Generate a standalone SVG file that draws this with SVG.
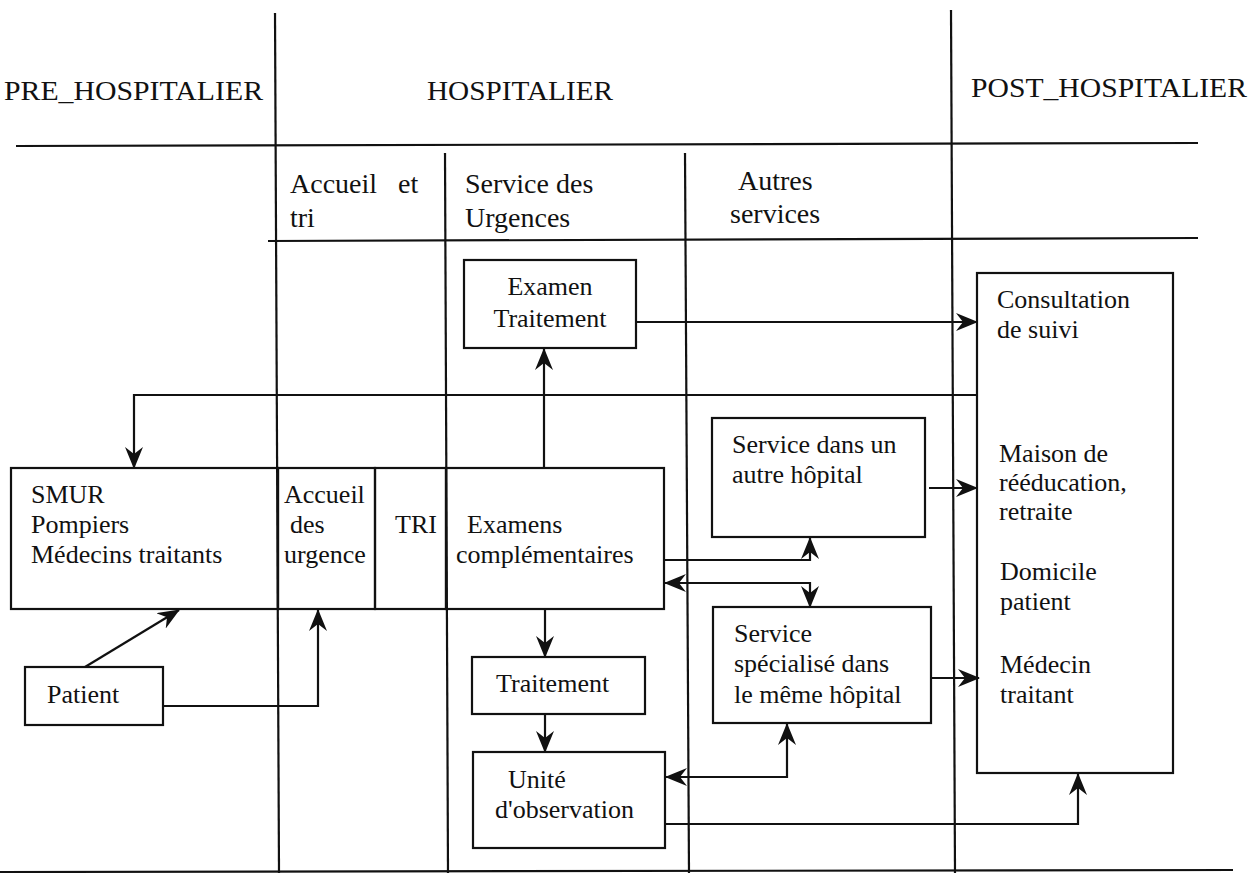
<svg xmlns="http://www.w3.org/2000/svg" width="1260" height="873" viewBox="0 0 1260 873">
<style>
.t{font-size:26px;fill:#111}
.h{font-size:28px;fill:#111}
.box{fill:none;stroke:#111;stroke-width:2.2}
.grid{stroke:#111;stroke-width:2.2;fill:none}
.c{stroke:#111;stroke-width:2.2;fill:none;marker-end:url(#ah)}
.cb{stroke:#111;stroke-width:2.2;fill:none;marker-end:url(#ah);marker-start:url(#ah)}
</style>
<defs>
<marker id="ah" viewBox="0 0 22 18" refX="21" refY="9" markerWidth="22" markerHeight="18" markerUnits="userSpaceOnUse" orient="auto-start-reverse">
<path d="M0,0 L22,9 L0,18 L7,9 Z" fill="#111"/>
</marker>
</defs>
<rect width="1260" height="873" fill="#fff"/>
<g id="grid" class="grid">
<line x1="275" y1="13" x2="279" y2="873"/>
<line x1="951" y1="10" x2="955" y2="873"/>
<line x1="16" y1="146" x2="1198" y2="143"/>
<line x1="445" y1="153" x2="448" y2="873"/>
<line x1="685" y1="153" x2="689" y2="873"/>
<line x1="268" y1="241" x2="1198" y2="238"/>
<line x1="0" y1="872" x2="1233" y2="870"/>
</g>
<g font-family="Liberation Serif, Times New Roman, Times, serif">
<g id="headers">
<text class="h" x="4" y="100" textLength="259" lengthAdjust="spacingAndGlyphs">PRE_HOSPITALIER</text>
<text class="h" x="427" y="100" textLength="186" lengthAdjust="spacingAndGlyphs">HOSPITALIER</text>
<text class="h" x="971" y="97" textLength="276" lengthAdjust="spacingAndGlyphs">POST_HOSPITALIER</text>
<text class="h" x="290" y="193">Accueil</text>
<text class="h" x="398" y="193">et</text>
<text class="h" x="290" y="227">tri</text>
<text class="h" x="465" y="193">Service des</text>
<text class="h" x="465" y="227">Urgences</text>
<text class="h" x="738" y="190">Autres</text>
<text class="h" x="730" y="223">services</text>
</g>
<g id="examen-traitement">
<rect class="box" x="464" y="260" width="172" height="88"/>
<text class="t" x="550" y="295" text-anchor="middle">Examen</text>
<text class="t" x="550" y="327" text-anchor="middle">Traitement</text>
</g>
<g id="post">
<rect class="box" x="977" y="273" width="196" height="500"/>
<text class="t" x="997" y="308">Consultation</text>
<text class="t" x="997" y="338">de suivi</text>
<text class="t" x="999" y="462">Maison de</text>
<text class="t" x="999" y="491">rééducation,</text>
<text class="t" x="999" y="520">retraite</text>
<text class="t" x="1000" y="580">Domicile</text>
<text class="t" x="1000" y="610">patient</text>
<text class="t" x="1000" y="673">Médecin</text>
<text class="t" x="1000" y="703">traitant</text>
</g>
<g id="smur">
<rect class="box" x="11" y="468" width="267" height="141"/>
<text class="t" x="31" y="503">SMUR</text>
<text class="t" x="31" y="533">Pompiers</text>
<text class="t" x="31" y="563">Médecins traitants</text>
</g>
<g id="accueil">
<rect class="box" x="278" y="468" width="97" height="141"/>
<text class="t" x="284" y="503">Accueil</text>
<text class="t" x="290" y="533">des</text>
<text class="t" x="284" y="563">urgence</text>
</g>
<g id="tri">
<rect class="box" x="375" y="468" width="71" height="141"/>
<text class="t" x="395" y="533">TRI</text>
</g>
<g id="examens">
<rect class="box" x="446" y="468" width="218" height="141"/>
<text class="t" x="467" y="533">Examens</text>
<text class="t" x="456" y="563">complémentaires</text>
</g>
<g id="service-autre">
<rect class="box" x="712" y="418" width="213" height="119"/>
<text class="t" x="732" y="453">Service dans un</text>
<text class="t" x="732" y="483">autre hôpital</text>
</g>
<g id="service-specialise">
<rect class="box" x="713" y="607" width="218" height="116"/>
<text class="t" x="734" y="642">Service</text>
<text class="t" x="734" y="672">spécialisé dans</text>
<text class="t" x="734" y="703">le même hôpital</text>
</g>
<g id="patient">
<rect class="box" x="25" y="667" width="138" height="58"/>
<text class="t" x="47" y="703">Patient</text>
</g>
<g id="traitement">
<rect class="box" x="472" y="657" width="173" height="57"/>
<text class="t" x="496" y="692">Traitement</text>
</g>
<g id="unite">
<rect class="box" x="473" y="752" width="192" height="96"/>
<text class="t" x="508" y="788">Unité</text>
<text class="t" x="495" y="818">d'observation</text>
</g>
</g>
<g id="connectors">
<path class="c" d="M544,467 V349"/>
<path class="c" d="M636,322 H977"/>
<path class="c" d="M977,395 H134 V468"/>
<path class="c" d="M929,488 H977"/>
<path class="c" d="M664,560 H810 V538"/>
<path class="cb" d="M665,583 H810 V607"/>
<path class="c" d="M931,678 H979"/>
<path class="c" d="M665,824 H1078 V774"/>
<path class="cb" d="M666,777 H787 V724"/>
<path class="c" d="M545,609 V657"/>
<path class="c" d="M545,714 V752"/>
<path class="c" d="M85,667 L179,610"/>
<path class="c" d="M163,706 H318 V610"/>
</g>
</svg>
